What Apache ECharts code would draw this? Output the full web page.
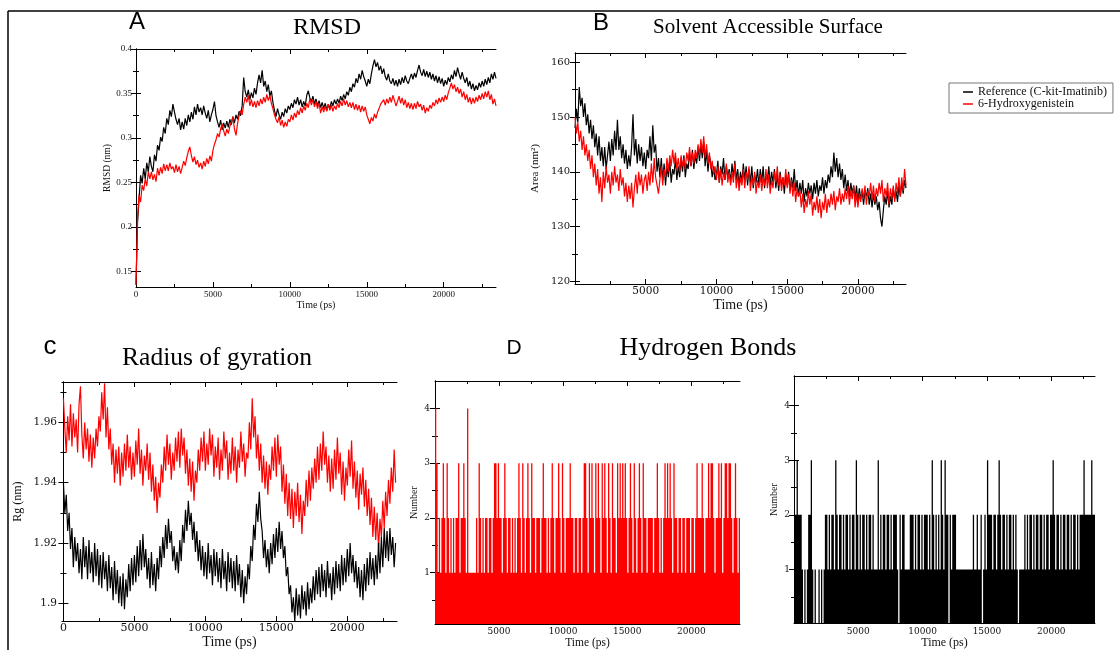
<!DOCTYPE html>
<html><head><meta charset="utf-8">
<script src="https://cdn.jsdelivr.net/npm/echarts@6/dist/echarts.min.js"></script>
<style>html,body{margin:0;padding:0;background:#fff}#chart{width:1120px;height:650px}</style>
</head><body><div id="chart"></div>
<script>
// ---------------- DATA ----------------
const NAME_REF = 'Reference (C-kit-Imatinib)';
const NAME_HYD = '6-Hydroxygenistein';
const T_STEP_MD = 100;   // ps between sampled frames (RMSD, SASA, Rg)
const T_STEP_HB = 100;   // ps between sampled frames (H-bonds)

const timeMajor = [0, 5000, 10000, 15000, 20000];
const timeMinor = [2500, 7500, 12500, 17500, 22500];
const timeLabelsNoZero = [5000, 10000, 15000, 20000];
const rmsdYTicks = [0.15, 0.2, 0.25, 0.3, 0.35, 0.4];
const rmsdYMinor = [0.175, 0.225, 0.275, 0.325, 0.375];
const sasaYTicks = [120, 130, 140, 150, 160];
const sasaYMinor = [125, 135, 145, 155];
const rgYTicks = [1.9, 1.92, 1.94, 1.96];
const rgYMinor = [1.91, 1.93, 1.95, 1.97];
const hbYTicks = [1, 2, 3, 4];
const hbYMinor = [0.5, 1.5, 2.5, 3.5];

const rmsdRef = [
0.135,0.205,0.232,0.258,0.249,0.266,0.254,0.272,0.262,0.279,
0.268,0.262,0.281,0.274,0.292,0.286,0.301,0.296,0.312,0.305,
0.322,0.315,0.331,0.324,0.338,0.329,0.321,0.315,0.322,0.309,
0.318,0.310,0.322,0.314,0.326,0.318,0.329,0.321,0.335,0.326,
0.338,0.329,0.334,0.326,0.336,0.328,0.322,0.331,0.318,0.326,
0.332,0.341,0.325,0.318,0.312,0.320,0.309,0.317,0.311,0.319,
0.312,0.321,0.315,0.324,0.317,0.326,0.321,0.330,0.325,0.336,
0.368,0.352,0.346,0.354,0.343,0.351,0.345,0.356,0.349,0.362,
0.371,0.362,0.376,0.358,0.364,0.352,0.360,0.347,0.353,0.340,
0.331,0.324,0.333,0.326,0.321,0.329,0.324,0.333,0.328,0.336,
0.332,0.339,0.334,0.343,0.338,0.346,0.337,0.343,0.335,0.341,
0.336,0.348,0.353,0.345,0.341,0.347,0.338,0.344,0.336,0.342,
0.334,0.340,0.333,0.339,0.331,0.338,0.333,0.341,0.336,0.343,
0.338,0.344,0.339,0.347,0.342,0.349,0.344,0.352,0.348,0.357,
0.352,0.361,0.357,0.367,0.362,0.372,0.366,0.376,0.369,0.364,
0.358,0.366,0.361,0.372,0.381,0.388,0.380,0.385,0.376,0.381,
0.372,0.378,0.369,0.365,0.372,0.364,0.361,0.367,0.359,0.365,
0.358,0.366,0.360,0.368,0.362,0.370,0.364,0.361,0.367,0.372,
0.366,0.373,0.368,0.376,0.382,0.374,0.370,0.377,0.369,0.375,
0.368,0.374,0.366,0.372,0.364,0.370,0.362,0.369,0.361,0.367,
0.358,0.365,0.360,0.368,0.363,0.371,0.366,0.376,0.369,0.379,
0.372,0.366,0.374,0.367,0.362,0.368,0.358,0.364,0.355,0.361,
0.353,0.359,0.354,0.362,0.357,0.364,0.358,0.366,0.360,0.368,
0.362,0.372,0.366,0.374,0.367];
const rmsdHyd = [
0.135,0.210,0.236,0.228,0.247,0.241,0.254,0.246,0.262,0.254,
0.262,0.253,0.259,0.251,0.266,0.258,0.267,0.260,0.271,0.263,
0.270,0.263,0.272,0.265,0.268,0.261,0.270,0.262,0.268,0.260,
0.267,0.274,0.269,0.278,0.285,0.290,0.280,0.273,0.279,0.270,
0.275,0.267,0.272,0.265,0.274,0.268,0.277,0.271,0.280,0.274,
0.286,0.293,0.298,0.305,0.301,0.310,0.316,0.308,0.302,0.310,
0.305,0.313,0.318,0.324,0.310,0.303,0.316,0.325,0.331,0.326,
0.338,0.346,0.340,0.348,0.336,0.343,0.335,0.341,0.334,0.342,
0.336,0.344,0.338,0.346,0.340,0.349,0.342,0.348,0.339,0.333,
0.326,0.321,0.317,0.324,0.314,0.320,0.312,0.318,0.313,0.321,
0.318,0.326,0.320,0.328,0.323,0.331,0.326,0.334,0.328,0.336,
0.331,0.339,0.334,0.344,0.337,0.343,0.335,0.341,0.333,0.339,
0.328,0.335,0.329,0.336,0.330,0.338,0.331,0.337,0.330,0.336,
0.332,0.339,0.334,0.341,0.336,0.344,0.337,0.342,0.335,0.340,
0.334,0.340,0.332,0.338,0.331,0.337,0.329,0.336,0.330,0.335,
0.326,0.321,0.316,0.323,0.319,0.327,0.322,0.329,0.333,0.338,
0.336,0.343,0.337,0.344,0.339,0.346,0.340,0.348,0.342,0.336,
0.341,0.347,0.339,0.345,0.337,0.343,0.334,0.340,0.333,0.339,
0.332,0.339,0.333,0.341,0.335,0.338,0.331,0.337,0.328,0.334,
0.330,0.337,0.333,0.340,0.336,0.343,0.338,0.345,0.340,0.346,
0.341,0.348,0.343,0.351,0.356,0.362,0.355,0.360,0.352,0.357,
0.350,0.355,0.346,0.352,0.343,0.349,0.340,0.346,0.338,0.345,
0.339,0.346,0.341,0.348,0.343,0.350,0.344,0.352,0.346,0.353,
0.343,0.349,0.338,0.344,0.336];

const sasaRef = [
148,151.5,149,155.5,152,153.5,150,152.5,148.5,150.5,
147,149.5,146,148.5,144.5,147,143,146.5,142,144.5,
141,144.5,140.5,143,145.5,142,146,143,147.5,144,
149.5,144,146.5,142.5,145,141.5,144,140.5,143,141,
144.5,150.5,143,146,141.5,145,142,144.5,141,143.5,
140.5,144,142.5,146.5,142,148.5,143.5,145,140,142.5,
139,142.5,138.5,141.5,137.5,141,139,142,138,140.5,
139.5,142.5,138.5,141,139,142.5,140,143,139,141.5,
140.5,143.5,141,144,140.5,143,141.5,144.5,142,145,
142.5,145.5,141,144,140,143,141.5,139,141,138.5,
139.5,142,138,141,139.5,142.5,138.5,141,139,140.5,
138,141.5,139,142,138.5,140.5,137.5,140,138,141.5,
138.5,141,137.5,140.5,138,141,137,139.5,138,140.5,
137.5,140.5,138,141,137,139.5,138.5,141,137.5,140,
138,140.5,137,139.5,136.5,140,137.5,139,136,139.5,
137.5,140,136.5,139,137,140.5,136.5,138.5,135.5,138,
136,138.5,134.5,137,135.5,138,136,137.5,135,138,
136,138.5,135.5,137.5,136.5,139,136,138.5,137,139.5,
138,141,139,143.5,140,142.5,139,141.5,138.5,140.5,
137,139.5,136.5,138.5,135.5,138,136,137.5,135,137.5,
134.5,137,135,136.5,134,136.5,135.5,137,134,136,
133.5,136,134,135.5,133,134.5,131.5,130,133,135.5,
134,136.5,133.5,135.5,134,137,135,136.5,134.5,137.5,
135.5,138,136,138.5,137];
const sasaHyd = [
150,147,149,145.5,147.5,144,146.5,143,145,142,
144,140.5,143,139,141.5,137.5,140.5,136,139,134.5,
140,137,141,138,139.5,136,140,137.5,141,138,
139.5,136.5,140.5,137.5,139,135.5,138,134.5,137.5,135,
138,133.5,137,139.5,136,140,137.5,139.5,136,138.5,
139.5,136.5,140,137.5,141.5,138,142.5,139,137.5,136,
138.5,141,137.5,140.5,139,142.5,140,143,141,144,
141.5,143.5,140.5,142.5,140,143,141,142.5,140.5,143.5,
142,144.5,141,143.5,141.5,144,142.5,145,143,146,
143.5,146.5,142.5,145,141.5,143.5,140.5,142,139.5,141,
138.5,141,138,140.5,137.5,140,138.5,141.5,138,140,
137.5,140,138,141.5,137,139.5,136.5,139,137.5,140.5,
137,140,138.5,141,136.5,139,137.5,140,136,138.5,
137,139.5,136.5,139,137.5,140.5,137,139.5,136,138.5,
137,140,138,141,137.5,139.5,136.5,139,137.5,140.5,
137,139.5,136,138.5,135.5,138,134.5,137,135.5,136.5,
133.5,136,132.5,135,133.5,136.5,134,136,132,134.5,
133,135.5,132.5,135,131.5,134.5,133,136,132.5,135,
133.5,136,134,136.5,133,135.5,134.5,137,134,136,
134.5,137,135,137.5,134,136.5,135,137.5,133.5,136,
133.5,136,134.5,137,135,137.5,134,136.5,135.5,138,
135,137.5,134.5,137,135.5,138,136,138.5,134.5,137,
135.5,138,134,137,135,137.5,134.5,138,136,139,
135.5,139,136.5,140.5,137.5];

const rgRef = [
1.940,1.930,1.936,1.924,1.930,1.918,1.925,1.912,1.922,1.914,
1.920,1.910,1.918,1.908,1.922,1.912,1.919,1.908,1.921,1.910,
1.917,1.907,1.920,1.909,1.918,1.906,1.916,1.905,1.917,1.908,
1.914,1.904,1.916,1.905,1.912,1.901,1.914,1.903,1.911,1.900,
1.909,1.899,1.910,1.898,1.908,1.902,1.913,1.904,1.915,1.906,
1.916,1.907,1.919,1.909,1.921,1.911,1.923,1.912,1.918,1.908,
1.915,1.905,1.917,1.906,1.913,1.904,1.915,1.908,1.919,1.912,
1.922,1.915,1.926,1.918,1.928,1.920,1.924,1.914,1.919,1.911,
1.917,1.910,1.921,1.914,1.926,1.920,1.931,1.924,1.934,1.926,
1.930,1.921,1.927,1.917,1.924,1.914,1.921,1.911,1.919,1.909,
1.917,1.908,1.920,1.910,1.916,1.906,1.918,1.909,1.917,1.907,
1.915,1.905,1.918,1.908,1.914,1.904,1.917,1.907,1.915,1.905,
1.914,1.904,1.916,1.906,1.913,1.902,1.911,1.900,1.909,1.903,
1.913,1.908,1.919,1.914,1.926,1.921,1.933,1.927,1.937,1.928,
1.924,1.915,1.921,1.912,1.918,1.910,1.920,1.913,1.923,1.915,
1.925,1.917,1.927,1.918,1.924,1.915,1.919,1.909,1.912,1.903,
1.906,1.897,1.902,1.894,1.905,1.896,1.903,1.895,1.906,1.898,
1.904,1.896,1.907,1.898,1.905,1.900,1.909,1.901,1.911,1.903,
1.912,1.902,1.913,1.904,1.911,1.902,1.914,1.905,1.910,1.901,
1.912,1.903,1.914,1.905,1.913,1.904,1.916,1.906,1.915,1.907,
1.918,1.909,1.920,1.910,1.916,1.907,1.914,1.905,1.912,1.902,
1.911,1.901,1.913,1.904,1.915,1.906,1.917,1.908,1.915,1.906,
1.916,1.908,1.920,1.910,1.922,1.912,1.925,1.915,1.924,1.914,
1.925,1.916,1.922,1.912,1.920];
const rgHyd = [
1.968,1.958,1.950,1.962,1.954,1.966,1.952,1.963,1.955,1.961,
1.950,1.966,1.972,1.956,1.948,1.960,1.951,1.958,1.947,1.956,
1.945,1.955,1.948,1.958,1.952,1.962,1.957,1.970,1.961,1.973,
1.955,1.965,1.951,1.958,1.946,1.953,1.940,1.951,1.943,1.952,
1.939,1.950,1.942,1.953,1.944,1.956,1.945,1.952,1.941,1.950,
1.942,1.954,1.946,1.958,1.943,1.951,1.939,1.949,1.944,1.953,
1.941,1.950,1.937,1.946,1.934,1.942,1.930,1.940,1.935,1.946,
1.940,1.952,1.944,1.956,1.946,1.953,1.941,1.950,1.944,1.955,
1.947,1.957,1.945,1.958,1.949,1.955,1.943,1.951,1.939,1.948,
1.937,1.947,1.934,1.944,1.940,1.951,1.944,1.955,1.947,1.957,
1.944,1.953,1.946,1.958,1.949,1.956,1.942,1.952,1.945,1.955,
1.941,1.951,1.944,1.957,1.948,1.954,1.941,1.950,1.943,1.955,
1.944,1.952,1.940,1.951,1.945,1.957,1.947,1.953,1.942,1.950,
1.948,1.960,1.951,1.968,1.955,1.962,1.948,1.956,1.944,1.953,
1.940,1.949,1.938,1.947,1.936,1.946,1.941,1.952,1.944,1.955,
1.942,1.956,1.946,1.952,1.937,1.946,1.933,1.943,1.929,1.940,
1.928,1.938,1.925,1.937,1.929,1.940,1.927,1.936,1.923,1.934,
1.929,1.941,1.932,1.944,1.934,1.945,1.938,1.948,1.940,1.952,
1.941,1.953,1.944,1.957,1.946,1.952,1.940,1.949,1.937,1.948,
1.938,1.951,1.941,1.955,1.943,1.950,1.936,1.947,1.934,1.945,
1.939,1.951,1.942,1.954,1.938,1.947,1.935,1.944,1.931,1.943,
1.936,1.945,1.932,1.941,1.929,1.938,1.926,1.935,1.922,1.932,
1.921,1.930,1.918,1.928,1.922,1.934,1.925,1.937,1.929,1.941,
1.933,1.945,1.937,1.951,1.940];

const hbHyd = [
4,3,1,2,1,2,3,2,1,3, 2,1,2,1,2,1,2,2,3,1, 2,2,3,2,1,4,1,1,1,1, 1,1,2,1,3,2,1,2,1,2,
2,1,2,2,1,2,3,3,2,3, 2,2,1,2,3,2,1,2,2,1, 2,1,2,1,2,3,2,1,3,2, 1,2,3,2,1,3,2,2,1,2,
2,2,1,2,3,2,2,1,2,1, 2,3,2,1,2,2,3,2,1,3, 2,1,2,2,2,3,2,2,1,2, 2,1,2,2,1,2,3,3,2,1,
3,2,3,2,1,3,2,3,2,1, 3,2,3,2,1,3,2,1,3,2, 2,1,3,2,3,2,3,2,3,2, 1,2,3,2,1,3,2,1,2,3,
2,1,3,2,2,1,2,2,2,2, 1,2,2,3,2,1,2,1,2,3, 2,3,2,3,2,1,3,2,2,1, 2,2,1,2,2,1,2,2,2,1,
2,2,1,2,3,2,2,2,3,2, 1,2,2,3,2,3,3,2,1,2, 2,3,2,3,1,2,3,3,2,3, 3,2,1,2,3,2,1,2,2];
const hbRef = [
2,2,3,2,2,2,1,0,1,0, 1,2,2,3,1,0,1,0,0,1, 0,1,0,1,2,2,1,2,1,2, 2,1,3,2,1,2,2,1,2,1,
2,2,1,2,1,2,2,1,3,2, 1,2,1,2,2,1,2,1,2,2, 1,2,1,1,1,3,1,2,1,2, 2,1,2,2,1,2,1,2,2,2,
1,0,2,1,2,2,1,1,1,1, 2,2,2,1,2,1,2,2,1,2, 1,2,2,2,1,2,1,3,2,1, 2,1,2,1,3,2,1,3,2,2,
0,2,1,2,2,2,1,1,1,1, 1,1,1,1,1,1,1,1,1,2, 1,1,2,1,1,2,0,1,2,1, 3,2,2,2,1,2,2,1,2,3,
2,1,2,2,1,2,1,2,2,1, 2,1,2,1,0,1,1,1,1,2, 1,2,1,2,2,1,2,1,2,2, 1,2,2,1,2,1,2,2,1,2,
2,3,2,1,2,2,1,2,1,2, 2,1,2,2,1,2,1,2,2,1, 2,1,2,2,2,3,2,2,2,2, 2,3,2,2,1];

// ---------------- BUILD ----------------
const SERIF = '"Liberation Serif", "Times New Roman", serif';
const DSERIF = '"DejaVu Serif", serif';
const SANS = '"Liberation Sans", Arial, sans-serif';
const RED = '#ff0000', BLACK = '#000000';

const panels = [
  { grid:{left:136, top:49, width:360, height:238},
    x:{min:0, max:23400, major:timeMajor, minor:timeMinor, labels:timeMajor, font:SERIF, size:9, margin:3,
       name:'Time (ps)', nameGap:11, nameFont:SERIF, nameSize:10},
    y:{min:0.1325, max:0.4, major:rmsdYTicks, minor:rmsdYMinor, labels:rmsdYTicks, font:SERIF, size:9, margin:4,
       name:'RMSD (nm)', nameGap:23, nameFont:SERIF, nameSize:9.5},
    series:[{name:NAME_REF, vals:rmsdRef, step:T_STEP_MD, color:BLACK},
            {name:NAME_HYD, vals:rmsdHyd, step:T_STEP_MD, color:RED}] },
  { grid:{left:575, top:53, width:331, height:231},
    x:{min:0, max:23400, major:timeMajor, minor:timeMinor, labels:timeLabelsNoZero, font:DSERIF, size:10.5, margin:2,
       name:'Time (ps)', nameGap:9, nameFont:SERIF, nameSize:14},
    y:{min:119.5, max:161.7, major:sasaYTicks, minor:sasaYMinor, labels:sasaYTicks, font:DSERIF, size:10, margin:5,
       name:'Area (nm²)', nameGap:34, nameFont:SERIF, nameSize:11},
    series:[{name:NAME_REF, vals:sasaRef, step:T_STEP_MD, color:BLACK},
            {name:NAME_HYD, vals:sasaHyd, step:T_STEP_MD, color:RED}] },
  { grid:{left:62, top:382, width:335, height:246},
    x:{min:-100, max:23500, major:timeMajor, minor:timeMinor, labels:timeMajor, font:DSERIF, size:11, margin:2,
       name:'Time (ps)', nameGap:11, nameFont:SERIF, nameSize:14},
    y:{min:1.8941, max:1.9734, major:rgYTicks, minor:rgYMinor, labels:rgYTicks, font:DSERIF, size:10.5, margin:5,
       name:'Rg (nm)', nameGap:38, nameFont:SERIF, nameSize:12},
    series:[{name:NAME_HYD, vals:rgHyd, step:T_STEP_MD, color:RED},
            {name:NAME_REF, vals:rgRef, step:T_STEP_MD, color:BLACK}] },
  { grid:{left:435, top:381, width:305, height:245},
    x:{min:0, max:23800, major:timeMajor, minor:timeMinor, labels:timeLabelsNoZero, font:DSERIF, size:9, margin:3,
       name:'Time (ps)', nameGap:12, nameFont:SERIF, nameSize:11.5},
    y:{min:0.06, max:4.5, major:hbYTicks, minor:hbYMinor, labels:hbYTicks, font:DSERIF, size:9, margin:5,
       name:'Number', nameGap:16, nameFont:SERIF, nameSize:10},
    series:[{name:NAME_HYD, vals:hbHyd, step:T_STEP_HB, color:RED, bars:true}] },
  { grid:{left:794, top:376, width:301, height:251},
    x:{min:0, max:23400, major:timeMajor, minor:timeMinor, labels:timeLabelsNoZero, font:DSERIF, size:9, margin:4,
       name:'Time (ps)', nameGap:13, nameFont:SERIF, nameSize:12},
    y:{min:0.02, max:4.54, major:hbYTicks, minor:hbYMinor, labels:hbYTicks, font:DSERIF, size:9, margin:4,
       name:'Number', nameGap:15, nameFont:SERIF, nameSize:10},
    series:[{name:NAME_REF, vals:hbRef, step:T_STEP_HB, color:BLACK, bars:true}] }
];

const grids = [], xAxes = [], yAxes = [], series = [];
const plain = v => String(v);
function axesFor(dim, gi, o) {
  const pos = dim === 'x' ? ['bottom', 'top'] : ['left', 'right'];
  const base = {type:'value', gridIndex:gi, min:o.min, max:o.max, splitLine:{show:false}};
  const line = {show:true, lineStyle:{color:'#000', width:1}};
  const tick = (vals, len) => ({show:true, inside:true, length:len, lineStyle:{color:'#000', width:1}, customValues:vals});
  const main = Object.assign({}, base, {
    position:pos[0], axisLine:line, axisTick:tick(o.major, 5),
    axisLabel:{show:true, customValues:o.labels, formatter:plain, margin:o.margin, fontFamily:o.font, fontSize:o.size, color:'#111'},
    name:o.name, nameLocation:'middle', nameGap:o.nameGap,
    nameTextStyle:{fontFamily:o.nameFont, fontSize:o.nameSize, color:'#111'}
  });
  const minor = Object.assign({}, base, {position:pos[0], axisLine:{show:false}, axisTick:tick(o.minor, 3), axisLabel:{show:false}});
  const mirror = Object.assign({}, base, {position:pos[1], axisLine:line, axisTick:tick(o.major, 5), axisLabel:{show:false}});
  const mirrorMinor = Object.assign({}, base, {position:pos[1], axisLine:{show:false}, axisTick:tick(o.minor, 3), axisLabel:{show:false}});
  return [main, minor, mirror, mirrorMinor];
}
// H-bond counts: one filled step-shaped polygon; each frame holds its count over its sampling interval.
function columnSeries(s, xi, yi, yMin) {
  return {
    type:'custom', name:s.name, xAxisIndex:xi, yAxisIndex:yi, silent:true, animation:false, clip:true,
    data:s.vals.map((v, i) => [i * s.step, v]),
    encode:{x:0, y:1}, itemStyle:{color:s.color},
    renderItem:function (params, api) {
      if (params.dataIndex !== 0) return null;
      const pts = [api.coord([0, yMin])];
      s.vals.forEach((v, i) => {
        const y = Math.max(v, yMin);
        pts.push(api.coord([i * s.step, y]));
        pts.push(api.coord([(i + 1) * s.step, y]));
      });
      pts.push(api.coord([s.vals.length * s.step, yMin]));
      return {type:'polygon', shape:{points:pts}, style:{fill:s.color, stroke:null}};
    }
  };
}
panels.forEach((p, gi) => {
  grids.push(Object.assign({containLabel:false}, p.grid));
  const xi = xAxes.length, yi = yAxes.length;
  xAxes.push(...axesFor('x', gi, p.x));
  yAxes.push(...axesFor('y', gi, p.y));
  p.series.forEach(s => {
    if (s.bars) { series.push(columnSeries(s, xi, yi, p.y.min)); return; }
    series.push({
      type:'line', name:s.name, xAxisIndex:xi, yAxisIndex:yi,
      data:s.vals.map((v, i) => [i * s.step, v]),
      showSymbol:false, symbol:'none', silent:true, animation:false, sampling:'none',
      lineStyle:{color:s.color, width:1.2}, itemStyle:{color:s.color}
    });
  });
});

function txt(text, x, y, size, family) {
  return {type:'text', silent:true, style:{text:text, x:x, y:y, font:'normal ' + size + 'px ' + family,
    textAlign:'center', textVerticalAlign:'middle', fill:'#000'}};
}

const option = {
  backgroundColor:'#fff',
  animation:false,
  grid:grids, xAxis:xAxes, yAxis:yAxes, series:series,
  legend:{
    data:[NAME_REF, NAME_HYD], orient:'vertical', left:949, top:83,
    padding:[3, 6, 3, 14], itemGap:0, itemWidth:10, itemHeight:1.5, icon:'rect',
    borderColor:'#777', borderWidth:1, selectedMode:false,
    textStyle:{fontFamily:SERIF, fontSize:12, lineHeight:12, color:'#111'}
  },
  graphic:[
    {type:'line', silent:true, shape:{x1:8, y1:11, x2:1120, y2:11}, style:{stroke:'#000', lineWidth:1.5}},
    {type:'line', silent:true, shape:{x1:8, y1:11, x2:8, y2:650}, style:{stroke:'#000', lineWidth:1.5}},
    txt('A', 137, 22, 24, SANS),
    txt('RMSD', 327, 28, 24, SERIF),
    txt('B', 601, 23, 24, SANS),
    txt('Solvent Accessible Surface', 768, 27, 21, SERIF),
    txt('c', 50, 347, 26, SANS),
    txt('Radius of gyration', 217, 358, 25.5, SERIF),
    txt('D', 514, 348, 21, SANS),
    txt('Hydrogen Bonds', 708, 348, 26, SERIF)
  ]
};
const chart = echarts.init(document.getElementById('chart'), null, {renderer:'canvas'});
chart.setOption(option);
</script></body></html>
